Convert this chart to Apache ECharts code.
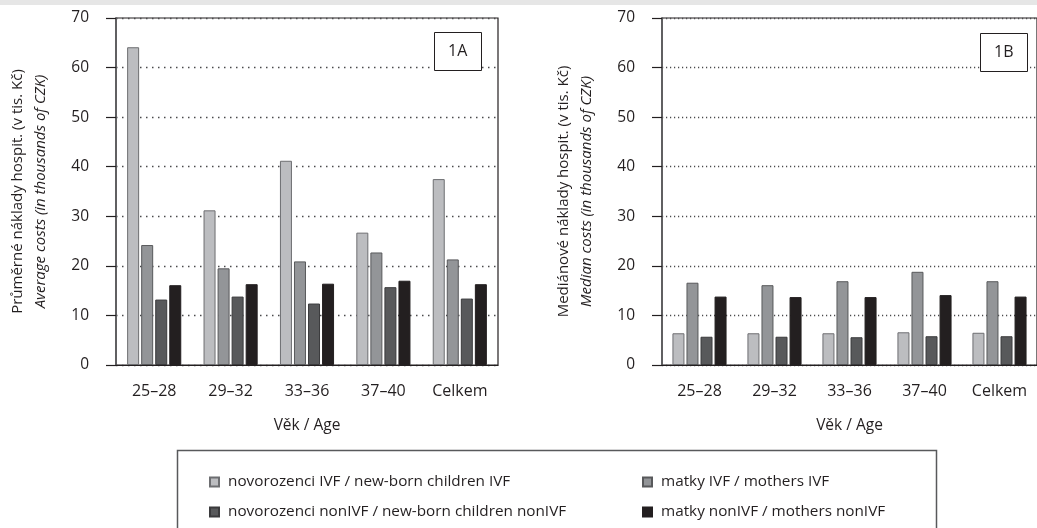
<!DOCTYPE html>
<html>
<head>
<meta charset="utf-8">
<script src="https://cdn.jsdelivr.net/npm/echarts@6/dist/echarts.min.js"></script>
<style>
  html, body { margin: 0; padding: 0; background: #ffffff; }
  #chart { width: 1037px; height: 528px; }
</style>
</head>
<body>
<div id="chart"></div>
<script>
const categories = ['25–28', '29–32', '33–36', '37–40', 'Celkem'];
const yTicks = [0, 10, 20, 30, 40, 50, 60, 70];

const seriesNames = [
  'novorozenci IVF / new-born children IVF',
  'matky IVF / mothers IVF',
  'novorozenci nonIVF / new-born children nonIVF',
  'matky nonIVF / mothers nonIVF'
];

// 1A – average costs
const avgNewbornIVF    = [64.1, 31.2, 41.2, 26.7, 37.5];
const avgMothersIVF    = [24.2, 19.5, 20.9, 22.7, 21.3];
const avgNewbornNonIVF = [13.2, 13.8, 12.4, 15.7, 13.4];
const avgMothersNonIVF = [16.1, 16.3, 16.4, 17.0, 16.3];

// 1B – median costs
const medNewbornIVF    = [6.4, 6.4, 6.4, 6.6, 6.5];
const medMothersIVF    = [16.6, 16.1, 16.9, 18.8, 16.9];
const medNewbornNonIVF = [5.7, 5.7, 5.6, 5.8, 5.8];
const medMothersNonIVF = [13.8, 13.7, 13.7, 14.1, 13.8];

const FONT = '"Open Sans", sans-serif';
const fills = ['#bcbdc0', '#939598', '#58595b', '#231f20'];
const borders = ['#6d6e71', '#58595b', '#3a3a3c', '#231f20'];

function makeSeries(idx, data, gridIdx) {
  return {
    name: seriesNames[idx],
    type: 'bar',
    xAxisIndex: gridIdx,
    yAxisIndex: gridIdx,
    data: data,
    barWidth: 12,
    barGap: '17%',
    itemStyle: { color: fills[idx], borderColor: borders[idx], borderWidth: 1 },
    emphasis: { disabled: true }
  };
}

function yAxis(gridIdx, name1, name2) {
  return {
    type: 'value',
    gridIndex: gridIdx,
    min: yTicks[0], max: yTicks[yTicks.length - 1], interval: yTicks[1] - yTicks[0],
    axisLine: { show: true, lineStyle: { color: '#58595b', width: 1.5 } },
    axisTick: { show: true, inside: false, length: 10, lineStyle: { color: '#231f20', width: 1.2 } },
    axisLabel: { margin: 27, color: '#231f20', fontFamily: FONT, fontSize: 15.5 },
    splitLine: { show: true, lineStyle: { color: '#4a4a4c', type: gridIdx === 0 ? [1.5, 4.5] : [1.2, 2.8], width: 1.3 } },
    name: '{a|' + name1 + '}\n{b|' + name2 + '}',
    nameLocation: 'middle',
    nameGap: 64,
    nameTextStyle: {
      color: '#231f20', fontFamily: FONT, fontSize: 15, lineHeight: 23,
      rich: {
        a: { fontFamily: FONT, fontSize: 15, lineHeight: 23, color: '#231f20' },
        b: { fontFamily: FONT, fontSize: 15, lineHeight: 23, fontStyle: 'italic', color: '#231f20' }
      }
    }
  };
}

function xAxis(gridIdx) {
  return {
    type: 'category',
    gridIndex: gridIdx,
    data: categories,
    axisLine: { show: true, lineStyle: { color: '#231f20', width: 1.2 } },
    axisTick: { show: false },
    axisLabel: { margin: 18, color: '#231f20', fontFamily: FONT, fontSize: 16 },
    name: 'Věk / Age',
    nameLocation: 'middle',
    nameGap: 53,
    nameTextStyle: { color: '#231f20', fontFamily: FONT, fontSize: 15.5 }
  };
}

const chart = echarts.init(document.getElementById('chart'), null, { renderer: 'canvas' });
chart.setOption({
  animation: false,
  backgroundColor: '#ffffff',
  textStyle: { fontFamily: FONT },
  title: [
    {
      text: '1A', left: 434, top: 33,
      borderColor: '#231f20', borderWidth: 1, backgroundColor: '#ffffff',
      padding: [11, 14],
      textStyle: { fontFamily: FONT, fontSize: 16, fontWeight: 'normal', color: '#231f20', lineHeight: 15 }
    },
    {
      text: '1B', left: 980, top: 34,
      borderColor: '#231f20', borderWidth: 1, backgroundColor: '#ffffff',
      padding: [11, 14],
      textStyle: { fontFamily: FONT, fontSize: 16, fontWeight: 'normal', color: '#231f20', lineHeight: 15 }
    }
  ],
  graphic: [
    { type: 'rect', left: 0, top: 0, shape: { width: 1037, height: 5 }, style: { fill: '#e6e6e6' }, silent: true },
    { type: 'rect', left: 175, top: 448, shape: { width: 759, height: 100 }, style: { fill: 'none', stroke: '#58595b', lineWidth: 1.5 }, silent: true }
  ],
  legend: [
    {
      orient: 'vertical', left: 204, top: 468,
      data: [seriesNames[0], seriesNames[2]],
      icon: 'rect', itemWidth: 9, itemHeight: 9, itemGap: 12,
      textStyle: { fontFamily: FONT, fontSize: 15.3, color: '#231f20', lineHeight: 18, padding: [0, 0, 0, 4] },
      selectedMode: false
    },
    {
      orient: 'vertical', left: 637, top: 468,
      data: [seriesNames[1], seriesNames[3]],
      icon: 'rect', itemWidth: 9, itemHeight: 9, itemGap: 12,
      textStyle: { fontFamily: FONT, fontSize: 15.3, color: '#231f20', lineHeight: 18, padding: [0, 0, 0, 4] },
      selectedMode: false
    }
  ],
  grid: [
    { left: 116, top: 18, width: 382, height: 347, show: true, borderColor: '#231f20', borderWidth: 1.2, containLabel: false },
    { left: 662, top: 18, width: 382, height: 347, show: true, borderColor: '#231f20', borderWidth: 1.2, containLabel: false }
  ],
  xAxis: [xAxis(0), xAxis(1)],
  yAxis: [
    yAxis(0, 'Průměrné náklady hospit. (v tis. Kč)', 'Average costs (in thousands of CZK)'),
    yAxis(1, 'Mediánové náklady hospit. (v tis. Kč)', 'Median costs (in thousands of CZK)')
  ],
  series: [
    makeSeries(0, avgNewbornIVF, 0),
    makeSeries(1, avgMothersIVF, 0),
    makeSeries(2, avgNewbornNonIVF, 0),
    makeSeries(3, avgMothersNonIVF, 0),
    makeSeries(0, medNewbornIVF, 1),
    makeSeries(1, medMothersIVF, 1),
    makeSeries(2, medNewbornNonIVF, 1),
    makeSeries(3, medMothersNonIVF, 1)
  ]
});
</script>
</body>
</html>
